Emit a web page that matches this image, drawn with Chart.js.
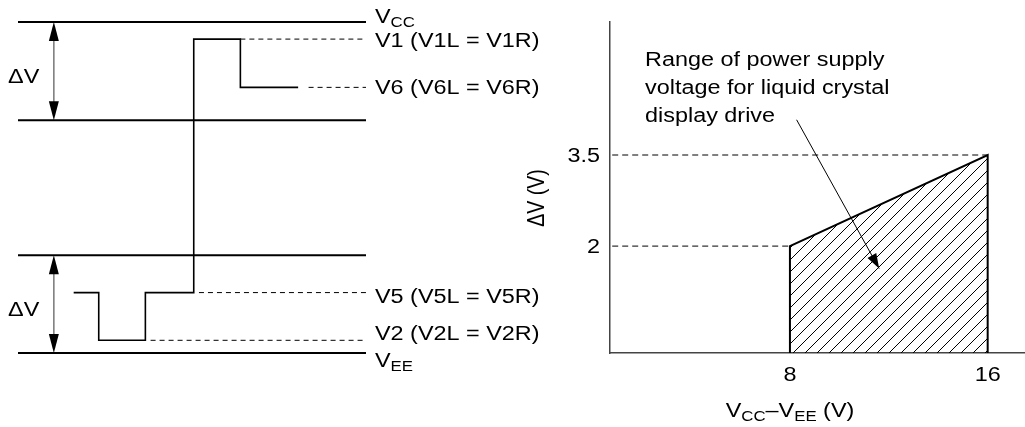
<!DOCTYPE html>
<html>
<head>
<meta charset="utf-8">
<script src="https://cdn.jsdelivr.net/npm/chart.js@4.4.0/dist/chart.umd.min.js"></script>
<style>
html, body { margin: 0; padding: 0; background: #fff; }
#wrap { position: relative; width: 1025px; height: 427px; overflow: hidden; }
#levelChart { position: absolute; left: 0; top: 0; }
#rangeChart { position: absolute; left: 510px; top: 0; }
</style>
</head>
<body>
<div id="wrap">
<canvas id="levelChart" width="560" height="427"></canvas>
<canvas id="rangeChart" width="515" height="427"></canvas>
</div>
<script>
// ---- left: drive levels (no real scale, VEE = 0, VCC = 12) ----
var railLevels = [12, 8.44, 3.54, 0];            // VCC, VCC-dV, VEE+dV, VEE
var levelNames = ["V1", "V6", "V5", "V2"];
var levelValues = [11.38, 9.63, 2.19, 0.46];
var dashFrom = [63.9, 83.5, 52, 38.1];            // where each dashed level line starts (time)
var waveTimes = [16, 23.2, 23.2, 36.6, 36.6, 50.5, 50.5, 63.9, 63.9, 80.5];
var waveLevels = [2.19, 2.19, 0.46, 0.46, 2.19, 2.19, 11.38, 11.38, 9.63, 9.63];

// ---- right: allowed dV vs VCC-VEE ----
var supplyRange = [8, 16];      // VCC-VEE (V)
var deltaVLimit = [2, 3.5];     // dV (V) at those supplies
var xTickValues = [8, 16];
var yTickValues = [2, 3.5];
var calloutLines = ["Range of power supply", "voltage for liquid crystal", "display drive"];
var calloutFrom = [8.27, 4.08];
var calloutTo = [11.61, 1.63];

var SX = 1.2;   // the figure is a bit wider than tall, text is too
var FONT = '"Liberation Sans", Arial, sans-serif';

function txt(ctx, s, x, y, size, align, rot) {
	ctx.save();
	ctx.translate(x, y);
	ctx.scale(SX, 1);
	if (rot) ctx.rotate(rot);
	ctx.font = size + "px " + FONT;
	ctx.textAlign = align || "left";
	ctx.textBaseline = "alphabetic";
	ctx.fillStyle = "#000";
	ctx.fillText(s, 0, 0);
	var w = ctx.measureText(s).width * SX;
	ctx.restore();
	return w;
}

// parts: [text, isSub]
function richText(ctx, parts, x, y, align) {
	var total = 0;
	ctx.font = "19.5px " + FONT;
	for (var i = 0; i < parts.length; i++) {
		ctx.font = (parts[i][1] ? 14 : 19.5) + "px " + FONT;
		total += ctx.measureText(parts[i][0]).width * SX;
	}
	var cx = align === "center" ? x - total / 2 : x;
	for (var j = 0; j < parts.length; j++) {
		var sub = parts[j][1];
		cx += txt(ctx, parts[j][0], cx, y + (sub ? 4 : 0), sub ? 14 : 19.5, "left");
	}
}

function arrowHead(ctx, x1, y1, x2, y2, len, half) {
	var a = Math.atan2(y2 - y1, x2 - x1);
	ctx.beginPath();
	ctx.moveTo(x2, y2);
	ctx.lineTo(x2 - len * Math.cos(a) + half * Math.sin(a), y2 - len * Math.sin(a) - half * Math.cos(a));
	ctx.lineTo(x2 - len * Math.cos(a) - half * Math.sin(a), y2 - len * Math.sin(a) + half * Math.cos(a));
	ctx.closePath();
	ctx.fill();
}

function seg(x1, y1, x2, y2) {
	return [{x: x1, y: y1}, {x: x2, y: y2}];
}

// ---------------- left chart ----------------
var levelSets = [];
for (var i = 0; i < railLevels.length; i++) {
	levelSets.push({data: seg(0, railLevels[i], 100, railLevels[i]), borderColor: "#000", borderWidth: 2, clip: false});
}
for (var k = 0; k < levelValues.length; k++) {
	levelSets.push({data: seg(dashFrom[k], levelValues[k], 100, levelValues[k]), borderColor: "#000", borderWidth: 1, borderDash: [5, 4], clip: false});
}
var wave = [];
for (var w = 0; w < waveTimes.length; w++) wave.push({x: waveTimes[w], y: waveLevels[w]});
levelSets.push({data: wave, borderColor: "#000", borderWidth: 1.6, clip: false});

var levelLabels = {
	id: "levelLabels",
	afterDatasetsDraw: function (chart) {
		var ctx = chart.ctx, xs = chart.scales.x, ys = chart.scales.y, area = chart.chartArea;
		// dV double arrows
		var ax = xs.getPixelForValue(10.3);
		var spans = [[railLevels[0], railLevels[1]], [railLevels[2], railLevels[3]]];
		ctx.save();
		for (var s = 0; s < spans.length; s++) {
			var t = ys.getPixelForValue(spans[s][0]), b = ys.getPixelForValue(spans[s][1]);
			ctx.strokeStyle = "#777";
			ctx.lineWidth = 1.5;
			ctx.beginPath();
			ctx.moveTo(ax, t + 10);
			ctx.lineTo(ax, b - 10);
			ctx.stroke();
			ctx.fillStyle = "#000";
			arrowHead(ctx, ax, b, ax, t, 19, 5);
			arrowHead(ctx, ax, t, ax, b, 19, 5);
			txt(ctx, "\u0394V", 8, (t + b) / 2 + 12, 19.5, "left");
		}
		ctx.restore();
		var lx = area.right + 9;
		richText(ctx, [["V", 0], ["CC", 1]], lx, ys.getPixelForValue(railLevels[0]) + 1);
		var dy = [8, 7, 10, 0];
		for (var n = 0; n < levelNames.length; n++) {
			var nm = levelNames[n];
			txt(ctx, nm + " (" + nm + "L = " + nm + "R)", lx, ys.getPixelForValue(levelValues[n]) + dy[n], 19.5, "left");
		}
		richText(ctx, [["V", 0], ["EE", 1]], lx, ys.getPixelForValue(railLevels[3]) + 14);
	}
};

new Chart(document.getElementById("levelChart"), {
	type: "line",
	data: {datasets: levelSets},
	options: {
		responsive: false,
		animation: false,
		events: [],
		layout: {padding: {left: 18, right: 194, top: 22, bottom: 74}},
		elements: {point: {radius: 0}, line: {tension: 0, fill: false}},
		scales: {
			x: {type: "linear", display: false, min: 0, max: 100},
			y: {type: "linear", display: false, min: 0, max: 12}
		},
		plugins: {legend: {display: false}, tooltip: {enabled: false}}
	},
	plugins: [levelLabels]
});

// ---------------- right chart ----------------
function hatch() {
	var c = document.createElement("canvas");
	c.width = 12; c.height = 12;
	var g = c.getContext("2d");
	g.strokeStyle = "#000";
	g.lineWidth = 1;
	g.beginPath();
	g.moveTo(-2, 14); g.lineTo(14, -2);
	g.moveTo(-2, 2); g.lineTo(2, -2);
	g.moveTo(10, 14); g.lineTo(14, 10);
	g.stroke();
	return g.createPattern(c, "repeat");
}

var region = [
	{x: supplyRange[0], y: 0},
	{x: supplyRange[0], y: deltaVLimit[0]},
	{x: supplyRange[1], y: deltaVLimit[1]},
	{x: supplyRange[1], y: 0}
];

var rangeLabels = {
	id: "rangeLabels",
	afterDatasetsDraw: function (chart) {
		var ctx = chart.ctx, xs = chart.scales.x, ys = chart.scales.y, area = chart.chartArea;
		for (var i = 0; i < yTickValues.length; i++) {
			txt(ctx, String(yTickValues[i]), area.left - 10, ys.getPixelForValue(yTickValues[i]) + 7, 19.5, "right");
		}
		for (var j = 0; j < xTickValues.length; j++) {
			txt(ctx, String(xTickValues[j]), xs.getPixelForValue(xTickValues[j]), area.bottom + 28, 19.5, "center");
		}
		richText(ctx, [["V", 0], ["CC", 1], ["\u2013V", 0], ["EE", 1], [" (V)", 0]], area.left + 180, area.bottom + 64, "center");
		txt(ctx, "\u0394V (V)", 34, 198, 19.5, "center", -Math.PI / 2);
		for (var l = 0; l < calloutLines.length; l++) {
			txt(ctx, calloutLines[l], area.left + 35, 66 + l * 28, 19.5, "left");
		}
		var x1 = xs.getPixelForValue(calloutFrom[0]), y1 = ys.getPixelForValue(calloutFrom[1]);
		var x2 = xs.getPixelForValue(calloutTo[0]), y2 = ys.getPixelForValue(calloutTo[1]);
		ctx.save();
		ctx.strokeStyle = "#000";
		ctx.fillStyle = "#000";
		ctx.lineWidth = 1;
		ctx.beginPath();
		ctx.moveTo(x1, y1);
		ctx.lineTo(x2, y2);
		ctx.stroke();
		arrowHead(ctx, x1, y1, x2, y2, 15, 5);
		ctx.restore();
	}
};

new Chart(document.getElementById("rangeChart"), {
	type: "line",
	data: {
		datasets: [{
			data: region,
			borderColor: "#000",
			borderWidth: 2,
			backgroundColor: hatch(),
			fill: "start"
		}, {
			data: seg(0, deltaVLimit[1], supplyRange[1], deltaVLimit[1]),
			borderColor: "#000",
			borderWidth: 1,
			borderDash: [6, 4],
			fill: false
		}, {
			data: seg(0, deltaVLimit[0], supplyRange[0], deltaVLimit[0]),
			borderColor: "#000",
			borderWidth: 1,
			borderDash: [6, 4],
			fill: false
		}]
	},
	options: {
		responsive: false,
		animation: false,
		events: [],
		layout: {padding: {left: 0, right: 0, top: 22, bottom: 0}},
		elements: {point: {radius: 0}, line: {tension: 0}},
		scales: {
			x: {
				type: "linear", min: 0.72, max: 17.51,
				ticks: {display: false},
				grid: {display: false, drawTicks: false},
				border: {color: "#444", width: 1.5},
				afterFit: function (s) { s.height = 74; }
			},
			y: {
				type: "linear", min: 0.24, max: 5.69,
				ticks: {display: false},
				grid: {display: false, drawTicks: false},
				border: {color: "#444", width: 1.5},
				afterFit: function (s) { s.width = 100; }
			}
		},
		plugins: {legend: {display: false}, tooltip: {enabled: false}}
	},
	plugins: [rangeLabels]
});
</script>
</body>
</html>
